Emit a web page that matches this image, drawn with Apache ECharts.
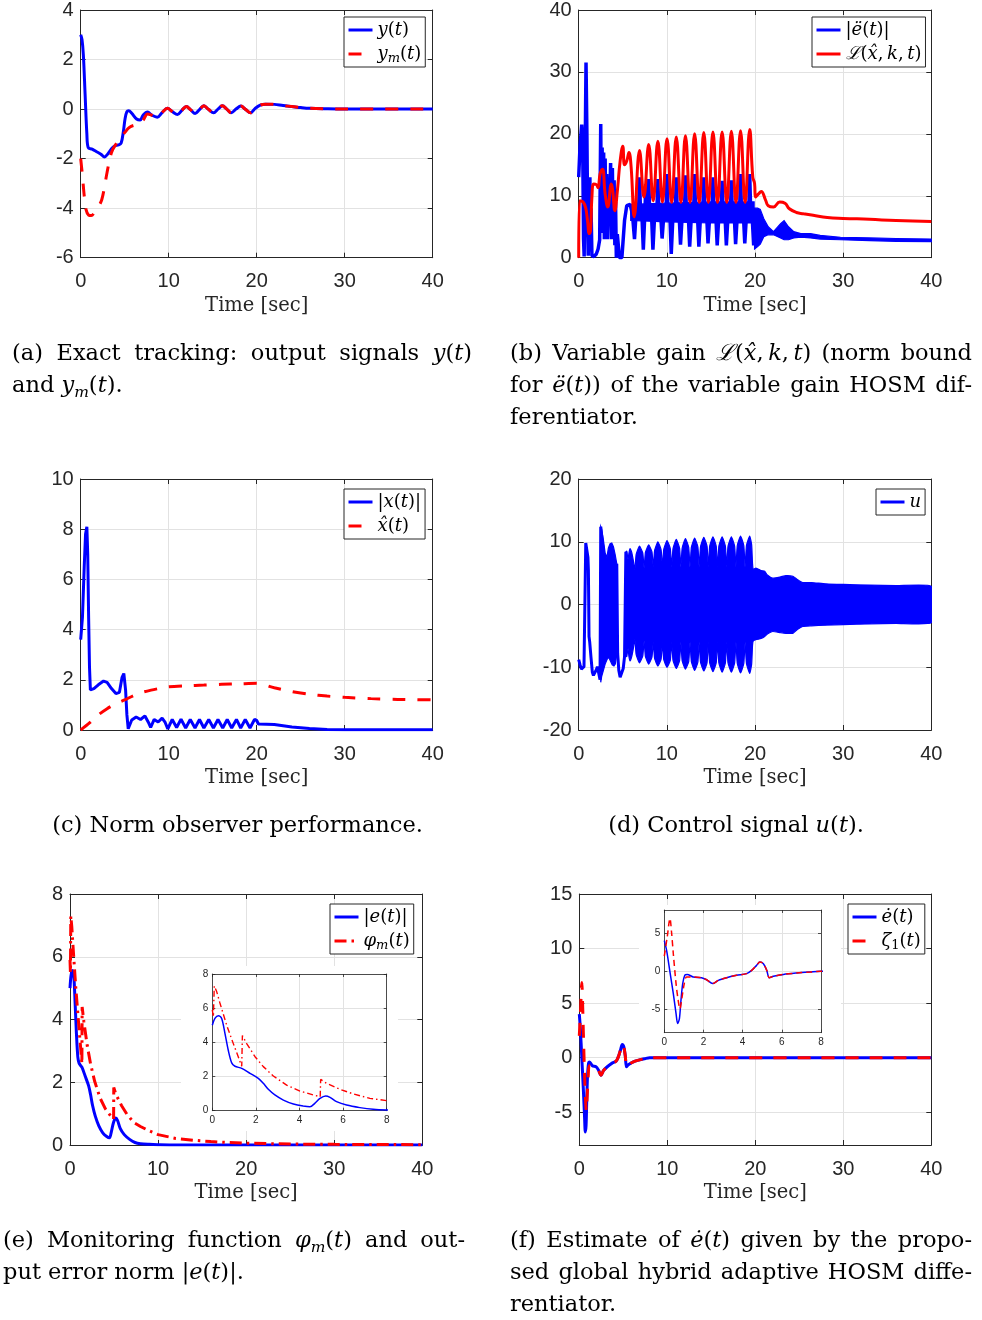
<!DOCTYPE html>
<html>
<head>
<meta charset="utf-8">
<script src="https://cdn.jsdelivr.net/npm/echarts@6/dist/echarts.min.js"></script>
<style>
  html, body { margin: 0; padding: 0; background: #fff; }
  #chart { width: 982px; height: 1320px; }
</style>
</head>
<body>
<div id="chart"></div>
<script>
// ---------- (a) output signals ----------
const outY = [[0,3.0],[0.15,2.8],[0.3,2.2],[0.5,0.6],[0.7,-1.0],[0.85,-1.55],[1.3,-1.62],[1.8,-1.72],[2.3,-1.82],[2.7,-1.93],[3.1,-1.8],[3.5,-1.6],[3.9,-1.48],[4.3,-1.45],[4.6,-1.37],[4.85,-0.9],[5.05,-0.37],[5.25,-0.1],[5.45,-0.07],[5.8,-0.17],[6.35,-0.4],[6.75,-0.44],[7.1,-0.24],[7.6,-0.12],[8.1,-0.25],[8.7,-0.33],[9.3,-0.12],[9.85,0.03],[10.4,-0.1],[11.0,-0.22],[11.5,-0.05],[12.0,0.1],[12.5,-0.03],[13.0,-0.18],[13.5,-0.02],[14.0,0.13],[14.55,-0.02],[15.1,-0.15],[15.6,0.0],[16.1,0.13],[16.6,0.0],[17.1,-0.15],[17.65,0.0],[18.2,0.12],[18.75,-0.02],[19.3,-0.15],[19.8,0.02],[20.4,0.16],[21.0,0.2],[22.0,0.19],[23.0,0.14],[24.0,0.1],[25.0,0.06],[26.0,0.03],[28.0,0.01],[30.0,0.0],[40.0,0.0]];
const outYm = [[0,-2.0],[0.2,-2.7],[0.4,-3.5],[0.6,-4.05],[0.9,-4.28],[1.2,-4.3],[1.6,-4.15],[2.0,-3.95],[2.4,-3.65],[2.7,-3.15],[3.0,-2.55],[3.5,-1.75],[4.0,-1.42],[4.5,-1.18],[5.0,-0.95],[5.5,-0.75],[6.0,-0.66],[6.7,-0.63],[7.1,-0.45],[7.6,-0.2],[8.1,-0.25],[8.7,-0.33],[9.3,-0.12],[9.85,0.03],[10.4,-0.1],[11.0,-0.22],[11.5,-0.05],[12.0,0.1],[12.5,-0.03],[13.0,-0.18],[13.5,-0.02],[14.0,0.13],[14.55,-0.02],[15.1,-0.15],[15.6,0.0],[16.1,0.13],[16.6,0.0],[17.1,-0.15],[17.65,0.0],[18.2,0.12],[18.75,-0.02],[19.3,-0.15],[19.8,0.02],[20.4,0.16],[21.0,0.2],[22.0,0.19],[23.0,0.14],[24.0,0.1],[25.0,0.06],[26.0,0.03],[28.0,0.01],[30.0,0.0],[40.0,0.0]];

// ---------- (b) second derivative of the error and its variable gain ----------
const eDdot = [[0,13.0],[0.15,18.0],[0.34,21.5],[0.45,18.8],[0.55,3.0],[0.62,0.2],[0.72,15.0],[0.83,31.5],[0.93,20.0],[1.02,5.0],[1.08,0.3],[1.15,9.0],[1.2,1.0],[1.27,13.0],[1.33,1.0],[1.4,8.0],[1.5,0.3],[1.75,0.2],[2.0,0.6],[2.2,1.4],[2.38,2.9],[2.5,21.6],[2.57,4.0],[2.66,17.8],[2.74,4.0],[2.83,17.0],[2.91,3.0],[3.0,16.0],[3.08,5.0],[3.18,13.5],[3.27,3.0],[3.38,10.0],[3.48,6.0],[3.62,15.3],[3.72,3.0],[3.82,14.5],[3.92,4.0],[4.02,12.5],[4.1,2.0],[4.18,9.0],[4.27,0.0],[4.38,3.8],[4.5,3.5],[4.62,0.0],[4.9,0.0],[5.2,6.0],[5.45,8.4],[5.83,8.6],[6.1,7.0],[6.33,3.0],[6.5,7.0],[6.8,8.0],[6.9,13.0],[7.0,8.0],[7.18,6.5],[7.33,1.3],[7.5,7.0],[7.62,11.9],[7.72,7.0],
  [7.84,8],[7.94,12.7],[8.04,8],[8.26,7],[8.42,1.3],[8.62,7],
  [8.88,8],[8.98,12.7],[9.08,8],[9.3,7],[9.46,3.1],[9.66,7],
  [9.92,8],[10.02,13.5],[10.12,8],[10.34,7],[10.5,0.6],[10.7,7],
  [10.97,8],[11.07,13.0],[11.17,8],[11.39,7],[11.55,2.1],[11.75,7],
  [12.01,8],[12.11,13.3],[12.21,8],[12.43,7],[12.59,1.8],[12.79,7],
  [13.05,8],[13.15,13.5],[13.25,8],[13.47,7],[13.63,1.8],[13.83,7],
  [14.09,8],[14.19,13.0],[14.29,8],[14.51,7],[14.67,2.3],[14.87,7],
  [15.13,8],[15.23,13.0],[15.33,8],[15.55,7],[15.71,2.0],[15.91,7],
  [16.17,8],[16.27,12.4],[16.37,8],[16.59,7],[16.75,2.0],[16.95,7],
  [17.22,8],[17.32,12.5],[17.42,8],[17.64,7],[17.8,2.2],[18.0,7],
  [18.26,8],[18.36,13.5],[18.46,8],[18.68,7],[18.84,2.3],[19.04,7],
  [19.3,8],[19.4,13.5],[19.5,8],[19.7,6],[19.85,2.0],[19.95,4]];
// chattering envelope of |ë(t)| during the oscillating phase and after the switch at t = 20 s
const eDdotMidUpper = [[5.9,8.6],[10,8.8],[15,9.0],[19.9,9.0]];
const eDdotMidLower = [[5.9,6.0],[10,5.8],[15,5.6],[19.9,5.6]];
const eDdotBandUpper = [[19.95,8.0],[20.3,8.0],[20.6,7.8],[21.0,6.3],[21.5,5.0],[22.1,4.2],[22.9,5.5],[23.3,6.0],[23.8,5.0],[24.4,4.2],[25.2,3.9],[26.3,3.9],[27.4,3.6],[29.7,3.3],[33,3.2],[36,3.1],[40,3.0]];
const eDdotBandLower = [[19.95,1.4],[20.3,1.8],[20.6,2.2],[21.0,3.4],[21.5,3.7],[22.1,3.7],[22.9,3.2],[23.3,2.9],[23.8,2.9],[24.4,3.2],[25.2,3.3],[26.3,3.2],[27.4,3.0],[29.7,2.9],[33,2.75],[36,2.65],[40,2.6]];
const gainL = [[0,0],[0.08,0],[0.1,9.2],[0.5,9.0],[0.8,8.0],[1.0,6.0],[1.2,3.9],[1.35,4.5],[1.5,9.8],[1.7,11.9],[2.0,11.8],[2.2,11.3],[2.42,13.5],[2.7,14.3],[3.0,10.3],[3.3,8.2],[3.7,11.9],[3.85,11.0],[4.1,7.6],[4.4,11.0],[4.7,15.6],[5.0,18.0],[5.2,15.0],[5.45,15.6],[5.7,17.0],[5.95,14.6],[6.3,6.6],[6.9,17.3],[7.4,9.8],[7.94,18.3],[8.45,9.2],[8.98,18.8],[9.5,9.0],[10.02,19.2],[10.55,8.9],[11.07,19.5],[11.6,8.9],[12.11,19.7],[12.63,8.9],[13.15,20.0],[13.67,8.9],[14.19,20.2],[14.71,8.9],[15.23,20.3],[15.75,8.9],[16.27,20.3],[16.8,8.9],[17.32,20.4],[17.84,8.9],[18.36,20.5],[18.88,8.9],[19.4,20.7],[19.75,13.0],[19.95,12.0],[20.05,9.8],[20.4,10.3],[20.7,10.7],[21.2,9.3],[21.5,8.4],[22.1,8.2],[22.8,9.0],[23.4,8.8],[23.9,7.9],[24.7,7.3],[25.5,7.1],[26.6,6.85],[28.2,6.5],[30,6.35],[33,6.2],[36,6.0],[40,5.85]];

// ---------- (c) state norm and its observer ----------
const normX = [[0,3.6],[0.2,4.5],[0.4,6.5],[0.55,7.8],[0.7,8.1],[0.8,7.0],[0.9,4.5],[1.0,2.5],[1.1,1.6],[1.5,1.65],[2.0,1.8],[2.6,1.95],[3.0,1.9],[3.5,1.65],[4.0,1.45],[4.4,1.5],[4.7,2.1],[4.9,2.25],[5.1,1.6],[5.25,0.6],[5.4,0.05],[5.8,0.4],[6.3,0.52],[6.8,0.42],[7.3,0.56],[7.7,0.3],[7.95,0.1],[8.35,0.42],[8.8,0.32],[9.25,0.47],[9.6,0.3],[9.9,0.04],[10.4,0.42],[10.9,0.1],[11.4,0.43],[11.93,0.08],[12.45,0.42],[12.99,0.08],[13.5,0.42],[14.0,0.08],[14.55,0.42],[15.08,0.08],[15.6,0.42],[16.14,0.08],[16.65,0.42],[17.16,0.08],[17.7,0.42],[18.18,0.08],[18.7,0.42],[19.24,0.08],[19.75,0.42],[20.0,0.38],[20.2,0.24],[22.0,0.22],[24.0,0.12],[26.0,0.06],[28.0,0.02],[30.0,0.01],[40.0,0.01]];
const normXhat = [[0,0],[1,0.28],[2,0.6],[3,0.85],[4,1.05],[5,1.2],[6,1.37],[7,1.5],[8,1.59],[9,1.66],[10,1.72],[12,1.76],[14,1.79],[16,1.82],[18,1.84],[20,1.86],[22,1.68],[24,1.53],[26,1.42],[28,1.35],[30,1.3],[33,1.25],[36,1.22],[40,1.2]];

// ---------- (d) control signal ----------
const uLine = [[0,-8.8],[0.15,-9.6],[0.3,-10.3],[0.45,-10.2],[0.6,-9.9],[0.72,-9.6],[0.8,9.8],[0.95,9.8],[1.05,7.5],[1.1,5.5],[1.17,-5.1],[1.25,-6.0],[1.4,-8.5],[1.55,-10.8],[1.67,-11.3],[1.85,-11.4],[2.0,-10.4],[2.12,-9.9],[2.28,-10.2],[2.42,-12.0],[2.5,12.4],[3.4,0],[4.32,6.5],[4.42,-7.8],[4.55,-10.5],[4.7,-11.6],[4.9,-11.3],[5.05,-10.2],[5.2,-8.3],[5.3,-8.0],[5.35,8.4]];
const uBand1Upper = [[2.5,12.4],[2.6,12.0],[2.8,10.3],[3.0,8.2],[3.2,7.5],[3.37,9.0],[3.56,9.7],[3.75,9.8],[3.94,9.2],[4.13,8.0],[4.32,6.5]];
const uBand1Lower = [[2.5,-12.4],[2.6,-11.5],[2.8,-10.5],[3.0,-9.5],[3.2,-8.8],[3.4,-8.4],[3.6,-9.0],[3.8,-9.6],[4.0,-9.8],[4.15,-9.5],[4.32,-8.0]];
const uBand2Upper = [[5.35,8.4],[5.45,8.5],[5.6,7.2],[5.7,8.2],[5.83,8.9],[6.0,8.4],[6.2,7.0],[6.37,5.5],[6.52,8.0],[6.9,9.3],[7.27,8.2],[7.42,5.8],[7.57,8.3],[7.94,9.5],[8.31,8.4],[8.46,6.0],[8.61,8.6],[8.98,10.0],[9.35,8.7],[9.5,6.0],[9.65,8.8],[10.02,10.2],[10.39,8.9],[10.55,6.0],[10.7,8.9],[11.07,10.4],[11.44,9.0],[11.59,6.0],[11.74,9.0],[12.11,10.5],[12.48,9.1],[12.63,6.0],[12.78,9.1],[13.15,10.6],[13.52,9.2],[13.67,6.0],[13.82,9.2],[14.19,10.7],[14.56,9.3],[14.71,6.0],[14.86,9.3],[15.23,10.8],[15.6,9.3],[15.75,6.0],[15.9,9.3],[16.27,10.8],[16.64,9.3],[16.79,6.0],[16.94,9.3],[17.32,10.8],[17.69,9.3],[17.84,6.0],[17.99,9.4],[18.36,10.9],[18.73,9.4],[18.88,6.0],[19.03,9.4],[19.4,10.9],[19.62,9.5],[19.72,6.5],[19.8,5.6],[20.1,5.8],[20.7,5.4],[21.1,5.3],[21.4,4.7],[22.0,4.2],[22.9,4.4],[23.5,4.6],[24.3,4.5],[24.8,4.0],[25.4,3.5],[26.4,3.5],[28,3.3],[30,3.2],[33,3.1],[36,3.0],[40,2.9]];
const uBand2Lower = [[5.35,-8.0],[5.45,-8.3],[5.6,-7.0],[5.7,-8.3],[5.83,-9.0],[6.0,-8.4],[6.2,-7.0],[6.37,-5.5],[6.52,-8.0],[6.9,-9.3],[7.27,-8.2],[7.42,-5.8],[7.57,-8.3],[7.94,-9.5],[8.31,-8.4],[8.46,-6.0],[8.61,-8.6],[8.98,-9.8],[9.35,-8.7],[9.5,-6.0],[9.65,-8.8],[10.02,-10.0],[10.39,-8.9],[10.55,-6.0],[10.7,-8.9],[11.07,-10.2],[11.44,-9.0],[11.59,-6.0],[11.74,-9.0],[12.11,-10.3],[12.48,-9.1],[12.63,-6.0],[12.78,-9.1],[13.15,-10.5],[13.52,-9.2],[13.67,-6.0],[13.82,-9.2],[14.19,-10.6],[14.56,-9.3],[14.71,-6.0],[14.86,-9.3],[15.23,-10.7],[15.6,-9.3],[15.75,-6.0],[15.9,-9.3],[16.27,-10.8],[16.64,-9.3],[16.79,-6.0],[16.94,-9.3],[17.32,-10.8],[17.69,-9.3],[17.84,-6.0],[17.99,-9.4],[18.36,-10.9],[18.73,-9.4],[18.88,-6.0],[19.03,-9.4],[19.4,-11.0],[19.62,-9.5],[19.72,-6.5],[19.8,-5.8],[20.1,-5.6],[20.7,-5.4],[21.1,-5.1],[21.4,-4.7],[22.0,-4.3],[22.9,-4.5],[23.5,-4.6],[24.3,-4.6],[24.8,-4.0],[25.4,-3.5],[26.4,-3.4],[28,-3.3],[30,-3.2],[33,-3.1],[36,-3.0],[40,-2.9]];

// ---------- (e) output error norm and monitoring function ----------
const errNorm = [[0,5.0],[0.12,5.4],[0.28,5.56],[0.43,5.4],[0.58,4.53],[0.73,3.55],[0.89,2.8],[1.04,2.6],[1.35,2.48],[1.73,2.19],[2.11,1.89],[2.34,1.6],[2.57,1.25],[2.87,0.92],[3.26,0.62],[3.72,0.39],[4.17,0.27],[4.48,0.23],[4.7,0.43],[4.94,0.72],[5.2,0.86],[5.4,0.78],[5.7,0.53],[6.16,0.33],[6.77,0.18],[7.38,0.08],[8,0.04],[9,0.02],[10,0.01],[12,0],[40,0]];
const phiM = [[0,5.9],[0.05,5.5],[0.09,7.3],[0.2,6.97],[0.35,6.3],[0.66,5.0],[0.96,3.94],[1.19,3.16],[1.35,2.6],[1.38,4.4],[1.57,3.94],[1.96,3.16],[2.34,2.58],[2.8,2.03],[3.41,1.5],[4.02,1.15],[4.63,0.92],[4.95,0.82],[4.97,1.83],[5.24,1.6],[5.86,1.25],[6.47,0.98],[7.23,0.72],[8,0.59],[9,0.45],[10,0.33],[12,0.21],[14,0.15],[16,0.11],[18,0.08],[20,0.06],[25,0.03],[30,0.02],[40,0.01]];

// ---------- (f) error derivative and its estimate ----------
const eDot = [[0,4.0],[0.12,2.7],[0.29,-0.1],[0.46,-2.9],[0.6,-5.5],[0.68,-6.8],[0.77,-6.2],[0.85,-3.8],[0.94,-1.6],[1.05,-0.5],[1.17,-0.4],[1.48,-0.74],[1.9,-0.83],[2.16,-1.1],[2.47,-1.6],[2.76,-1.17],[3.18,-0.83],[3.69,-0.52],[4.2,-0.3],[4.46,0.13],[4.71,0.78],[4.88,1.22],[5.06,1.0],[5.23,0.13],[5.36,-0.83],[5.57,-0.65],[6.08,-0.4],[6.76,-0.22],[7.44,-0.09],[8,0],[40,0]];
const zeta1 = [[0,2.0],[0.15,4.5],[0.29,6.9],[0.37,5.1],[0.46,2.3],[0.6,-1.6],[0.71,-3.8],[0.8,-4.9],[0.88,-3.8],[1.02,-1.6],[1.14,-0.74],[1.48,-0.74],[1.9,-0.83],[2.16,-1.1],[2.47,-1.6],[2.76,-1.17],[3.18,-0.83],[3.69,-0.52],[4.2,-0.3],[4.46,0.13],[4.71,0.78],[4.88,1.22],[5.06,1.0],[5.23,0.13],[5.36,-0.83],[5.57,-0.65],[6.08,-0.4],[6.76,-0.22],[7.44,-0.09],[8,0],[40,0]];

// ---------- tick values ----------
const timeTicks = {min: 0, max: 40, step: 10};
const zoomTimeTicks = {min: 0, max: 8, step: 2};
const yTicksA = {min: -6, max: 4, step: 2};
const yTicksB = {min: 0, max: 40, step: 10};
const yTicksC = {min: 0, max: 10, step: 2};
const yTicksD = {min: -20, max: 20, step: 10};
const yTicksE = {min: 0, max: 8, step: 2};
const yTicksF = {min: -8, max: 15, values: [-5, 0, 5, 10, 15]};
const yTicksFZoom = {min: -8, max: 8, values: [-5, 0, 5]};

// ---------- styling ----------
const AX = '#262626';
const GRIDLINE = '#e2e2e2';
const BLUE = '#0000ff';
const RED = '#ff0000';
const SANS = '"Liberation Sans", Arial, sans-serif';
const SERIF = '"DejaVu Serif", serif';

const grids = [
  {left: 80.7, top: 6.7, width: 352, height: 251},     // (a)
  {left: 578.7, top: 6.7, width: 352.6, height: 251},  // (b)
  {left: 80.7, top: 479, width: 352, height: 251},     // (c)
  {left: 578.7, top: 479, width: 352.6, height: 251},  // (d)
  {left: 70, top: 894, width: 352.3, height: 251},     // (e)
  {left: 579.3, top: 894, width: 352, height: 251},    // (f)
  {left: 212.3, top: 974, width: 174.4, height: 136.7},// (e) zoom
  {left: 664.3, top: 910, width: 156.7, height: 122.7} // (f) zoom
];

const xAxes = [], yAxes = [];
function scaleOpts(r) {
  return r.values ? {min: r.min, max: r.max} : {min: r.min, max: r.max, interval: r.step};
}
function addAxes(gi, xr, yr, small) {
  const fs = small ? 10 : 20;
  const tl = small ? 3 : 5;
  const z = small ? 11 : 0;
  const lineCfg = {show: true, onZero: false, lineStyle: {color: AX, width: small ? 0.8 : 1}};
  const tickCfg = (r) => Object.assign({show: true, inside: true, length: tl, lineStyle: {color: AX, width: small ? 0.8 : 1}},
    r.values ? {customValues: r.values} : {});
  const split = {show: true, lineStyle: {color: GRIDLINE, width: 1}};
  const labelCfg = (r, margin) => Object.assign({show: true, color: AX, fontSize: fs, fontFamily: SANS, margin},
    r.values ? {customValues: r.values} : {});
  xAxes.push(Object.assign({
    gridIndex: gi, type: 'value', position: 'bottom', z,
    axisLine: lineCfg, axisTick: tickCfg(xr), splitLine: split,
    axisLabel: labelCfg(xr, small ? 5 : 14),
    name: small ? '' : 'Time [sec]', nameLocation: 'middle', nameGap: 38,
    nameTextStyle: {fontFamily: SERIF, fontSize: 19.5, color: AX}
  }, scaleOpts(xr)));
  xAxes.push(Object.assign({
    gridIndex: gi, type: 'value', position: 'top', z,
    axisLine: lineCfg, axisTick: tickCfg(xr), splitLine: {show: false}, axisLabel: {show: false}
  }, scaleOpts(xr)));
  yAxes.push(Object.assign({
    gridIndex: gi, type: 'value', position: 'left', z,
    axisLine: lineCfg, axisTick: tickCfg(yr), splitLine: split,
    axisLabel: labelCfg(yr, small ? 4 : 7)
  }, scaleOpts(yr)));
  yAxes.push(Object.assign({
    gridIndex: gi, type: 'value', position: 'right', z,
    axisLine: lineCfg, axisTick: tickCfg(yr), splitLine: {show: false}, axisLabel: {show: false}
  }, scaleOpts(yr)));
}
addAxes(0, timeTicks, yTicksA, false);
addAxes(1, timeTicks, yTicksB, false);
addAxes(2, timeTicks, yTicksC, false);
addAxes(3, timeTicks, yTicksD, false);
addAxes(4, timeTicks, yTicksE, false);
addAxes(5, timeTicks, yTicksF, false);
addAxes(6, zoomTimeTicks, yTicksE, true);
addAxes(7, zoomTimeTicks, yTicksFZoom, true);

function line(name, gi, data, color, width, type, z, smooth) {
  return {
    type: 'line', name, xAxisIndex: 2 * gi, yAxisIndex: 2 * gi, data,
    symbol: 'none', showSymbol: false, smooth: smooth || false, z: z,
    lineStyle: {color, width, type: type || 'solid'}, itemStyle: {color},
    clip: true, animation: false
  };
}
// chattering signals are drawn as a filled envelope between upper and lower bounds
function band(name, gi, upper, lower, color, z, smooth) {
  return {
    type: 'custom', name, xAxisIndex: 2 * gi, yAxisIndex: 2 * gi, z, clip: true, silent: true,
    data: [upper[0]], encode: {x: 0, y: 1}, animation: false,
    renderItem: (params, api) => {
      const pts = upper.map(p => api.coord(p)).concat(lower.slice().reverse().map(p => api.coord(p)));
      return {type: 'polygon', shape: {points: pts, smooth: smooth || 0}, style: {fill: color, stroke: color, lineWidth: 1.2}};
    }
  };
}

const DASH = [13, 12];
const series = [
  line('y', 0, outY, BLUE, 3, 'solid', 2, 0.35),
  line('ym', 0, outYm, RED, 3, DASH, 3, 0.35),

  line('eddot', 1, eDdot, BLUE, 3.5, 'solid', 2, false),
  band('eddot chatter mid', 1, eDdotMidUpper, eDdotMidLower, BLUE, 2, 0),
  band('eddot chatter', 1, eDdotBandUpper, eDdotBandLower, BLUE, 2, 0),
  line('L', 1, gainL, RED, 3, 'solid', 3, 0.45),

  line('xabs', 2, normX, BLUE, 3, 'solid', 2, false),
  line('xhat', 2, normXhat, RED, 3, DASH, 3, 0.3),

  line('u', 3, uLine, BLUE, 3, 'solid', 2, false),
  band('u chatter 1', 3, uBand1Upper, uBand1Lower, BLUE, 2, 0),
  band('u chatter 2', 3, uBand2Upper, uBand2Lower, BLUE, 2, 0.15),

  line('eabs', 4, errNorm, BLUE, 3, 'solid', 2, 0.3),
  line('phim', 4, phiM, RED, 3, [12, 5, 2.5, 5], 3, false),
  line('eabs zoom', 6, errNorm, BLUE, 1.5, 'solid', 12, 0.3),
  line('phim zoom', 6, phiM, RED, 1.4, [6, 3, 1.5, 3], 13, false),

  line('edot', 5, eDot, BLUE, 3, 'solid', 2, 0.3),
  line('zeta1', 5, zeta1, RED, 3, [13, 11], 3, 0.3),
  line('edot zoom', 7, eDot, BLUE, 1.5, 'solid', 12, 0.3),
  line('zeta1 zoom', 7, zeta1, RED, 1.5, [6, 4], 13, 0.3)
];

// ---------- legends ----------
const LEG_SIZE = 18;
const legRich = {
  rm: {fontFamily: SERIF, fontSize: LEG_SIZE, lineHeight: 22, color: '#000'},
  it: {fontFamily: SERIF, fontSize: LEG_SIZE, lineHeight: 22, fontStyle: 'italic', color: '#000'},
  sub: {fontFamily: SERIF, fontSize: 13, lineHeight: 15, fontStyle: 'italic', verticalAlign: 'bottom', color: '#000'},
  subrm: {fontFamily: SERIF, fontSize: 13, lineHeight: 15, verticalAlign: 'bottom', color: '#000'}
};
const legendLabels = {
  y: '{it|y}{rm|(}{it|t}{rm|)}',
  ym: '{it|y}{sub|m}{rm|(}{it|t}{rm|)}',
  eddot: '{rm||}{it|ë}{rm|(}{it|t}{rm|)|}',
  L: '{it|ℒ}{rm|(}{it|x̂}{rm|,\u2009}{it|k}{rm|,\u2009}{it|t}{rm|)}',
  xabs: '{rm||}{it|x}{rm|(}{it|t}{rm|)|}',
  xhat: '{it|x̂}{rm|(}{it|t}{rm|)}',
  u: '{it|u}',
  eabs: '{rm||}{it|e}{rm|(}{it|t}{rm|)|}',
  phim: '{it|φ}{sub|m}{rm|(}{it|t}{rm|)}',
  edot: '{it|ė}{rm|(}{it|t}{rm|)}',
  zeta1: '{it|ζ}{subrm|1}{rm|(}{it|t}{rm|)}'
};
function legendAt(left, top, names) {
  return {
    show: true, orient: 'vertical', left, top, data: names,
    itemWidth: 24, itemHeight: 22, itemGap: 2, padding: [2, 4, 2, 3],
    borderColor: AX, borderWidth: 1, borderRadius: 0, backgroundColor: '#fff',
    selectedMode: false, itemStyle: {opacity: 0}, lineStyle: {width: 3},
    formatter: n => legendLabels[n],
    textStyle: {rich: legRich, color: '#000', lineHeight: 22}
  };
}
const legends = [
  legendAt(344, 17, ['y', 'ym']),
  legendAt(812, 17, ['eddot', 'L']),
  legendAt(344, 489, ['xabs', 'xhat']),
  legendAt(876, 489, ['u']),
  legendAt(330, 904, ['eabs', 'phim']),
  legendAt(848, 904, ['edot', 'zeta1'])
];

// ---------- captions ----------
const CAP_SIZE = 22.5;
const CAP_LH = 32;
const capRich = {
  rm: {fontFamily: SERIF, fontSize: CAP_SIZE, lineHeight: 30, color: '#000'},
  it: {fontFamily: SERIF, fontSize: CAP_SIZE, lineHeight: 30, fontStyle: 'italic', color: '#000'},
  sub: {fontFamily: SERIF, fontSize: 15.5, lineHeight: 18, fontStyle: 'italic', verticalAlign: 'bottom', color: '#000'}
};
const captions = [
  {x: 12, y: 354, w: 460, lines: [
    ['(a)', 'Exact', 'tracking:', 'output', 'signals', '{it|y}{rm|(}{it|t}{rm|)}'],
    ['and', '{it|y}{sub|m}{rm|(}{it|t}{rm|).}']]},
  {x: 510, y: 354, w: 462, lines: [
    ['(b)', 'Variable', 'gain', '{it|ℒ}{rm|(}{it|x̂}{rm|,\u2009}{it|k}{rm|,\u2009}{it|t}{rm|)}', '(norm', 'bound'],
    ['for', '{it|ë}{rm|(}{it|t}{rm|))}', 'of', 'the', 'variable', 'gain', 'HOSM', 'dif-'],
    ['ferentiator.']]},
  {center: 237.5, y: 826, lines: [['(c)', 'Norm', 'observer', 'performance.']]},
  {center: 736, y: 826, lines: [['(d)', 'Control', 'signal', '{it|u}{rm|(}{it|t}{rm|).}']]},
  {x: 3, y: 1241, w: 462, lines: [
    ['(e)', 'Monitoring', 'function', '{it|φ}{sub|m}{rm|(}{it|t}{rm|)}', 'and', 'out-'],
    ['put', 'error', 'norm', '{rm||}{it|e}{rm|(}{it|t}{rm|)|.}']]},
  {x: 510, y: 1241, w: 462, lines: [
    ['(f)', 'Estimate', 'of', '{it|ė}{rm|(}{it|t}{rm|)}', 'given', 'by', 'the', 'propo-'],
    ['sed', 'global', 'hybrid', 'adaptive', 'HOSM', 'diffe-'],
    ['rentiator.']]}
];

const measureCtx = document.createElement('canvas').getContext('2d');
function fontOf(st) {
  return (st.fontStyle || 'normal') + ' normal ' + st.fontSize + 'px ' + st.fontFamily;
}
function richWord(w) { return w.indexOf('{') >= 0 ? w : '{rm|' + w + '}'; }
function wordWidth(w) {
  let total = 0;
  richWord(w).replace(/\{(\w+)\|([^}]*)\}/g, (m, k, t) => {
    measureCtx.font = fontOf(capRich[k]);
    total += measureCtx.measureText(t).width;
    return m;
  });
  return total;
}
measureCtx.font = fontOf(capRich.rm);
const spaceW = measureCtx.measureText(' ').width;

const graphics = [];
// white plates under the zoomed insets
graphics.push({type: 'rect', shape: {x: 181, y: 966, width: 217, height: 165}, style: {fill: '#fff'}, z: 10, silent: true});
graphics.push({type: 'rect', shape: {x: 639, y: 905, width: 202, height: 146}, style: {fill: '#fff'}, z: 10, silent: true});

captions.forEach(cap => {
  cap.lines.forEach((words, li) => {
    const y = cap.y + li * CAP_LH;
    const widths = words.map(wordWidth);
    const natural = widths.reduce((a, b) => a + b, 0);
    let gap = spaceW, x;
    if (cap.center != null) {
      x = cap.center - (natural + (words.length - 1) * spaceW) / 2;
    } else {
      x = cap.x;
      if (li < cap.lines.length - 1 && words.length > 1) gap = (cap.w - natural) / (words.length - 1);
    }
    words.forEach((w, i) => {
      graphics.push({
        type: 'text', x, y, z: 1, silent: true,
        style: {text: richWord(w), rich: capRich, fontFamily: SERIF, fontSize: CAP_SIZE,
                verticalAlign: 'middle', align: 'left', fill: '#000'}
      });
      x += widths[i] + gap;
    });
  });
});

const chart = echarts.init(document.getElementById('chart'), null, {renderer: 'canvas', width: 982, height: 1320});
chart.setOption({
  animation: false,
  backgroundColor: '#fff',
  grid: grids,
  xAxis: xAxes,
  yAxis: yAxes,
  legend: legends,
  series,
  graphic: {elements: graphics}
});
</script>
</body>
</html>
